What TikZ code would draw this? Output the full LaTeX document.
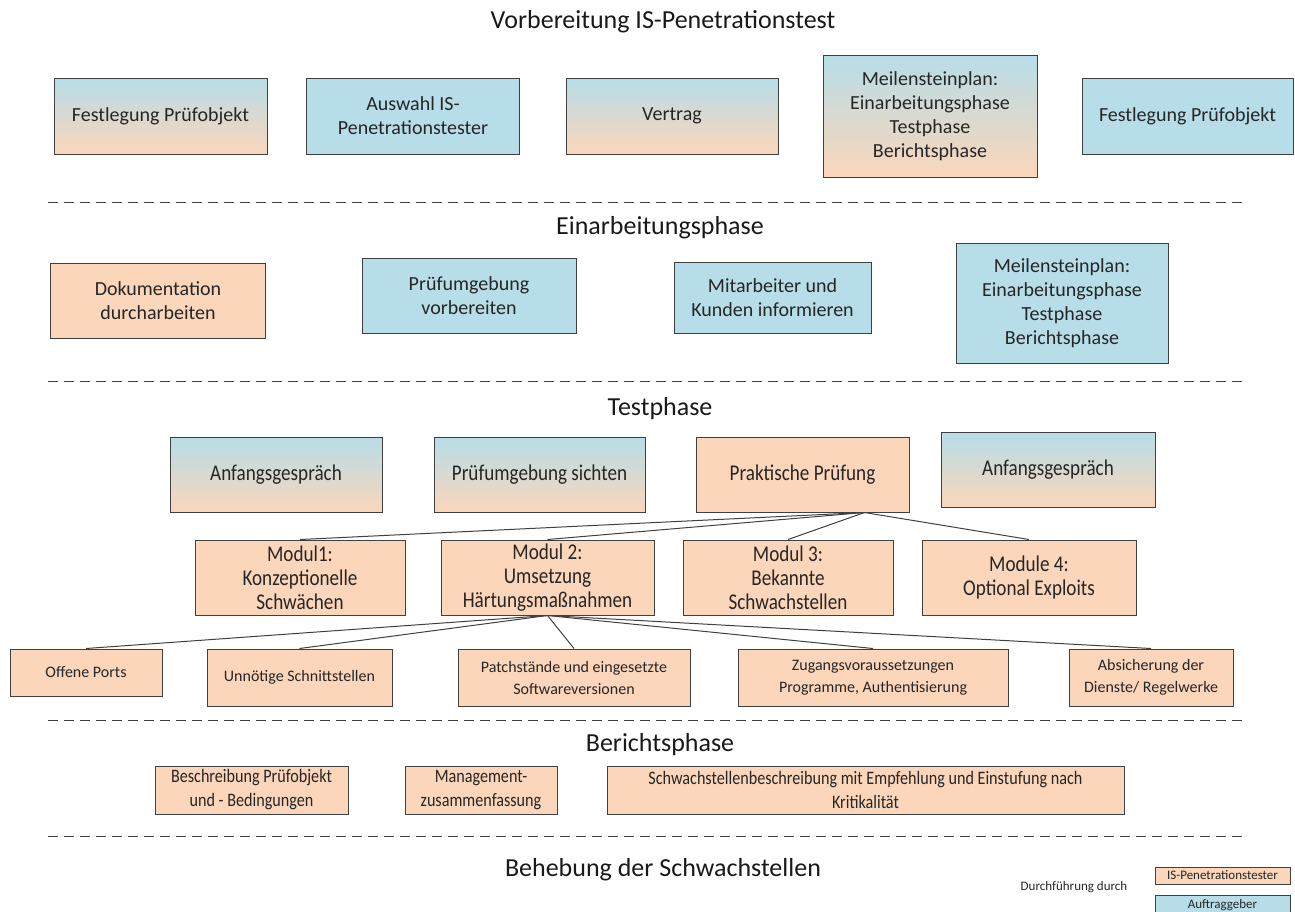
\documentclass[tikz,border=0pt]{standalone}
\usepackage{fontspec}
\setmainfont{Carlito}
\newfontfamily\narrowfont[FakeStretch=0.85]{Carlito}
\usetikzlibrary{shapes,positioning}
\definecolor{aqua}{RGB}{183,221,232}
\definecolor{peach}{RGB}{251,214,186}
\definecolor{boxline}{RGB}{64,64,64}
\definecolor{txt}{RGB}{38,38,38}
\tikzstyle{pbox} = [rectangle, draw=boxline, line width=1pt, text=txt, align=center, inner sep=2pt, font=\fontsize{20}{24}\selectfont]
\tikzstyle{mixbox} = [pbox, top color=aqua, bottom color=peach]
\tikzstyle{bluebox} = [pbox, fill=aqua]
\tikzstyle{peachbox} = [pbox, fill=peach]
\tikzstyle{cond} = [font=\narrowfont\fontsize{22.5}{24}\selectfont]
\tikzstyle{small} = [font=\fontsize{16}{22}\selectfont]
\tikzstyle{report} = [font=\narrowfont\fontsize{19}{24}\selectfont]
\tikzstyle{legend} = [font=\fontsize{13}{14}\selectfont]
\tikzstyle{phasetitle} = [draw=none, fill=none, text=black!90, font=\fontsize{26}{30}\selectfont]
\tikzstyle{phasesep} = [draw=black!75, line width=1pt, dash pattern=on 10pt off 6pt]
\tikzstyle{tedge} = [draw=boxline, line width=1pt]

\begin{document}
\begin{tikzpicture}[x=1pt, y=-1pt]
\useasboundingbox (0,0) rectangle (1295,911);

% phases =============================
\node[phasetitle] (vorb) at (663,22) {Vorbereitung IS-Penetrationstest};
\node[phasetitle] (einarb) at (660,228) {Einarbeitungsphase};
\node[phasetitle] (test) at (660,409) {Testphase};
\node[phasetitle] (bericht) at (660,745) {Berichtsphase};
\node[phasetitle] (behebung) at (663,870) {Behebung der Schwachstellen};
\foreach \y in {202,381,720,836}
  \draw[phasesep] (48,\y) -- (1245,\y);

% Vorbereitung =============================
\node[mixbox, minimum width=213pt, minimum height=76pt] (objekt) at (160.5,116) {Festlegung Prüfobjekt};
\node[bluebox, minimum width=213pt, minimum height=76pt] (auswahl) at (413,116) {Auswahl IS-\\Penetrationstester};
\node[mixbox, minimum width=212pt, minimum height=76pt] (vertrag) at (672,116) {Vertrag};
\node[mixbox, minimum width=214pt, minimum height=122pt] (plan) at (930,116) {Meilensteinplan:\\Einarbeitungsphase\\Testphase\\Berichtsphase};
\node[bluebox, minimum width=211pt, minimum height=76pt] (objekt2) at (1187.5,116) {Festlegung Prüfobjekt};

% Einarbeitung =============================
\node[peachbox, minimum width=215pt, minimum height=75pt] (doku) at (158,300.5) {Dokumentation\\durcharbeiten};
\node[bluebox, minimum width=214pt, minimum height=75pt] (umgebung) at (469,295.5) {Prüfumgebung\\vorbereiten};
\node[bluebox, minimum width=197pt, minimum height=71pt] (info) at (772.5,297.5) {Mitarbeiter und\\Kunden informieren};
\node[bluebox, minimum width=212pt, minimum height=120pt] (plan2) at (1062,303) {Meilensteinplan:\\Einarbeitungsphase\\Testphase\\Berichtsphase};

% Testphase =============================
\node[mixbox, cond, minimum width=212pt, minimum height=75pt] (gespr) at (276,474.5) {Anfangsgespräch};
\node[mixbox, cond, minimum width=211pt, minimum height=75pt] (sichten) at (539.5,474.5) {Prüfumgebung sichten};
\node[peachbox, cond, minimum width=213pt, minimum height=75pt] (praxis) at (802.5,474.5) {Praktische Prüfung};
\node[mixbox, cond, minimum width=214pt, minimum height=75pt] (gespr2) at (1048,469.5) {Anfangsgespräch};

\node[peachbox, cond, minimum width=210pt, minimum height=75pt] (mod1) at (300,577.5) {Modul1:\\Konzeptionelle\\Schwächen};
\node[peachbox, cond, minimum width=213pt, minimum height=75pt] (mod2) at (547.5,577.5) {Modul 2:\\Umsetzung\\Härtungsmaßnahmen};
\node[peachbox, cond, minimum width=210pt, minimum height=75pt] (mod3) at (788,577.5) {Modul 3:\\Bekannte\\Schwachstellen};
\node[peachbox, cond, minimum width=214pt, minimum height=75pt] (mod4) at (1029,577.5) {Module 4:\\Optional Exploits};

\node[peachbox, small, minimum width=152pt, minimum height=47pt] (ports) at (86,672.5) {Offene Ports};
\node[peachbox, small, minimum width=185pt, minimum height=57pt] (schnitt) at (299.5,677.5) {Unnötige Schnittstellen};
\node[peachbox, small, minimum width=232pt, minimum height=57pt] (patch) at (574,677.5) {Patchstände und eingesetzte\\Softwareversionen};
\node[peachbox, small, minimum width=270pt, minimum height=57pt] (zugang) at (873,677.5) {Zugangsvoraussetzungen\\Programme, Authentisierung};
\node[peachbox, small, minimum width=164pt, minimum height=57pt] (dienste) at (1151,677.5) {Absicherung der\\Dienste/ Regelwerke};

% Berichtsphase =============================
\node[peachbox, report, minimum width=193pt, minimum height=48pt] (beschr) at (251.5,790) {Beschreibung Prüfobjekt\\und - Bedingungen};
\node[peachbox, report, minimum width=152pt, minimum height=48pt] (mgmt) at (481,790) {Management-\\zusammenfassung};
\node[peachbox, report, minimum width=517pt, minimum height=48pt] (schwach) at (865.5,790) {Schwachstellenbeschreibung mit Empfehlung und Einstufung nach\\Kritikalität};

% legend
\node[legend, text=txt] (durch) at (1074,887) {Durchführung durch};
\node[peachbox, legend, inner sep=0pt, minimum width=135pt, minimum height=17pt] (legpen) at (1222.5,875.5) {IS-Penetrationstester};
\node[bluebox, legend, inner sep=0pt, minimum width=135pt, minimum height=20pt] (legauf) at (1222.5,905) {Auftraggeber};

% edges
\foreach \m in {mod1,mod2,mod3,mod4}
  \path[tedge] ([xshift=62pt]praxis.south) -- (\m.north);
\foreach \s in {ports,schnitt,patch,zugang,dienste}
  \path[tedge] (mod2.south) -- (\s.north);

\end{tikzpicture}
\end{document}
